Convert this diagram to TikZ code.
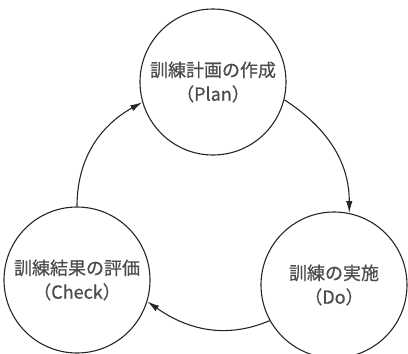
\documentclass[tikz,border=0pt]{standalone}
\usepackage{fontspec}
\setmainfont{Noto Sans CJK JP}[FakeBold=0.6]
\usetikzlibrary{arrows.meta}
\begin{document}
\begin{tikzpicture}[x=1pt,y=-1pt,
  stage/.style={circle,draw=black!85,line width=1.1pt,minimum size=146pt,inner sep=0pt,
    align=center,text=black!70,font=\fontsize{18}{24}\selectfont},
  flow/.style={draw=black!85,line width=1.1pt,-{Latex[length=12pt,width=6.5pt]}}]
\useasboundingbox (0,0) rectangle (408,354);
\node[stage] (plan) at (213,82) {訓練計画の作成\\（Plan）};
\node[stage] (do) at (334,285) {訓練の実施\\（Do）};
\node[stage] (check) at (77,280) {訓練結果の評価\\（Check）};
\draw[flow] (plan.-14) to[out=-33,in=90] (do.78);
\draw[flow] (do.209) to[out=203,in=-35] (check.-17);
\draw[flow] (check.90) to[out=90,in=209] (plan.196);
\end{tikzpicture}
\end{document}
